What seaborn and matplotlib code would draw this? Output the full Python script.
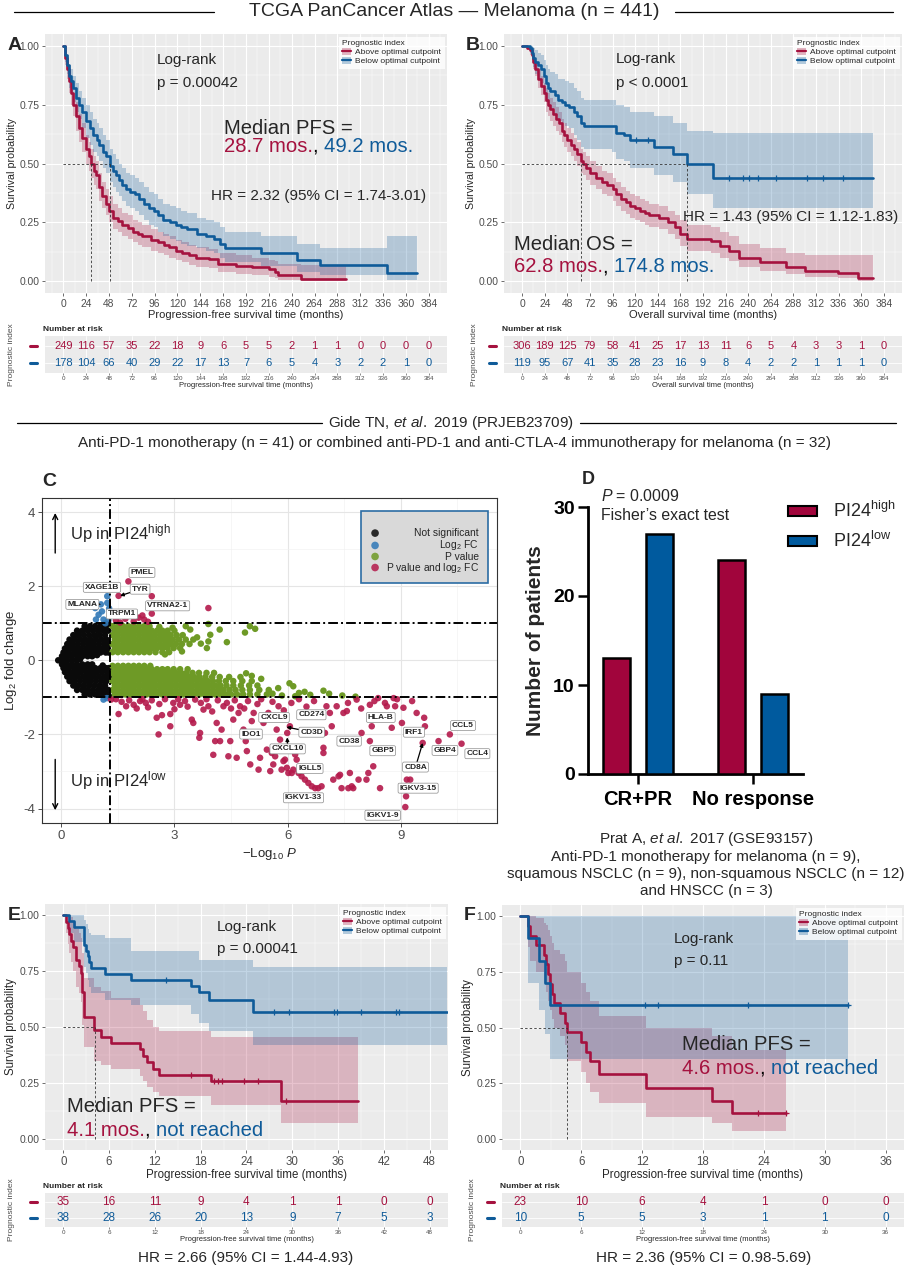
import numpy as np
import pandas as pd
import matplotlib
matplotlib.use("Agg")
import matplotlib.pyplot as plt
import seaborn as sns
from matplotlib.lines import Line2D
from matplotlib.patches import Patch, Rectangle
from matplotlib.ticker import MultipleLocator, FormatStrFormatter
from matplotlib.transforms import blended_transform_factory

sns.set_theme(style="white")
plt.rcParams["font.family"] = ["Liberation Sans", "DejaVu Sans"]
plt.rcParams["mathtext.fontset"] = "custom"
plt.rcParams["mathtext.rm"] = "Liberation Sans"
plt.rcParams["mathtext.it"] = "Liberation Sans:italic"
plt.rcParams["mathtext.bf"] = "Liberation Sans:bold"
plt.rcParams["axes.unicode_minus"] = False

RED = "#A5123F"
BLUE = "#0F5B99"
BAR_RED = "#A1053C"
BAR_BLUE = "#005A9E"
BG = "#EBEBEB"

# ---------------- KM data ----------------
# A: TCGA progression-free survival
A_red_t = [0, 2, 4, 6, 8, 10, 13, 17, 20, 24, 27, 29, 32, 34, 38, 41, 45, 48, 52, 57,
           62, 68, 73, 78, 83, 92, 100, 106, 111, 118, 125, 132, 139, 153, 163, 181, 198, 216, 222, 226,
           250, 297]
A_red_s = [1.0, 0.95, 0.90, 0.85, 0.80, 0.75, 0.70, 0.65, 0.61, 0.56, 0.53, 0.50, 0.47, 0.45, 0.40, 0.36, 0.33, 0.30, 0.27, 0.255,
           0.24, 0.225, 0.21, 0.20, 0.19, 0.175, 0.165, 0.155, 0.145, 0.13, 0.12, 0.11, 0.10, 0.095, 0.075, 0.065, 0.06, 0.05, 0.04, 0.025,
           0.01, 0.01]
A_red_lo = [1.0, 0.92, 0.86, 0.80, 0.75, 0.70, 0.64, 0.59, 0.55, 0.50, 0.47, 0.44, 0.41, 0.39, 0.34, 0.31, 0.28, 0.25, 0.22, 0.21,
            0.19, 0.18, 0.165, 0.155, 0.145, 0.13, 0.12, 0.11, 0.10, 0.09, 0.08, 0.07, 0.06, 0.055, 0.04, 0.03, 0.028, 0.02, 0.015, 0.005,
            0.002, 0.002]
A_red_hi = [1.0, 0.98, 0.94, 0.90, 0.85, 0.80, 0.76, 0.71, 0.67, 0.62, 0.59, 0.56, 0.53, 0.51, 0.46, 0.42, 0.39, 0.36, 0.33, 0.31,
            0.29, 0.28, 0.26, 0.25, 0.24, 0.22, 0.21, 0.20, 0.19, 0.175, 0.165, 0.155, 0.145, 0.135, 0.12, 0.11, 0.10, 0.09, 0.085, 0.075,
            0.07, 0.07]
A_blue_t = [0, 2, 4, 6, 8, 10, 13, 17, 20, 24, 28, 31, 35, 38, 42, 45, 49, 52, 55, 59,
            62, 66, 70, 75, 80, 85, 90, 95, 100, 105, 112, 118, 124, 130, 140, 150, 158, 165, 170, 200,
            208, 225, 246, 270, 310, 340, 372]
A_blue_s = [1.0, 0.96, 0.92, 0.87, 0.85, 0.82, 0.78, 0.75, 0.72, 0.68, 0.65, 0.62, 0.60, 0.58, 0.55, 0.53, 0.49, 0.47, 0.45, 0.43,
            0.41, 0.39, 0.38, 0.37, 0.35, 0.33, 0.31, 0.30, 0.28, 0.26, 0.25, 0.24, 0.23, 0.22, 0.20, 0.19, 0.18, 0.16, 0.14, 0.14,
            0.12, 0.12, 0.09, 0.07, 0.07, 0.035, 0.035]
A_blue_lo = [1.0, 0.93, 0.88, 0.82, 0.80, 0.76, 0.72, 0.69, 0.65, 0.61, 0.58, 0.55, 0.53, 0.51, 0.48, 0.46, 0.42, 0.40, 0.38, 0.36,
             0.34, 0.32, 0.31, 0.30, 0.28, 0.26, 0.24, 0.23, 0.21, 0.19, 0.18, 0.17, 0.16, 0.15, 0.14, 0.13, 0.12, 0.10, 0.08, 0.08,
             0.065, 0.065, 0.04, 0.025, 0.025, 0.005, 0.005]
A_blue_hi = [1.0, 0.99, 0.96, 0.92, 0.90, 0.87, 0.84, 0.81, 0.78, 0.75, 0.72, 0.69, 0.67, 0.65, 0.62, 0.60, 0.56, 0.54, 0.52, 0.50,
             0.48, 0.46, 0.45, 0.44, 0.42, 0.40, 0.38, 0.37, 0.35, 0.33, 0.32, 0.31, 0.30, 0.29, 0.27, 0.26, 0.25, 0.23, 0.21, 0.21,
             0.19, 0.19, 0.16, 0.14, 0.14, 0.19, 0.19]
A_medians = [28.7, 49.2]

# B: TCGA overall survival
B_red_t = [0, 5, 8, 10, 12, 14, 17, 20, 23, 25, 28, 30, 33, 36, 39, 42, 45, 48, 52, 55,
           58, 62, 65, 68, 72, 78, 85, 90, 96, 100, 105, 110, 115, 120, 125, 130, 135, 145, 155, 162,
           168, 175, 200, 210, 220, 230, 252, 280, 300, 335, 356, 372]
B_red_s = [1.0, 0.99, 0.98, 0.96, 0.93, 0.90, 0.86, 0.83, 0.80, 0.77, 0.75, 0.73, 0.71, 0.69, 0.67, 0.64, 0.62, 0.60, 0.58, 0.56,
           0.54, 0.51, 0.50, 0.48, 0.46, 0.44, 0.42, 0.41, 0.39, 0.37, 0.35, 0.335, 0.32, 0.31, 0.30, 0.29, 0.28, 0.27, 0.25, 0.23,
           0.20, 0.18, 0.17, 0.15, 0.13, 0.10, 0.08, 0.06, 0.045, 0.035, 0.015, 0.015]
B_red_lo = [1.0, 0.98, 0.96, 0.94, 0.90, 0.87, 0.82, 0.79, 0.76, 0.72, 0.70, 0.68, 0.66, 0.64, 0.62, 0.59, 0.57, 0.55, 0.53, 0.51,
            0.49, 0.46, 0.45, 0.43, 0.41, 0.39, 0.37, 0.36, 0.34, 0.32, 0.30, 0.285, 0.27, 0.26, 0.25, 0.24, 0.23, 0.22, 0.20, 0.18,
            0.15, 0.13, 0.12, 0.10, 0.085, 0.06, 0.045, 0.03, 0.02, 0.012, 0.002, 0.002]
B_red_hi = [1.0, 1.0, 0.99, 0.98, 0.96, 0.93, 0.90, 0.87, 0.84, 0.82, 0.80, 0.78, 0.76, 0.74, 0.72, 0.69, 0.67, 0.65, 0.63, 0.61,
            0.59, 0.56, 0.55, 0.53, 0.51, 0.49, 0.47, 0.46, 0.44, 0.42, 0.40, 0.385, 0.37, 0.36, 0.35, 0.34, 0.33, 0.32, 0.30, 0.28,
            0.26, 0.24, 0.23, 0.21, 0.19, 0.16, 0.14, 0.12, 0.11, 0.11, 0.11, 0.11]
B_blue_t = [0, 5, 8, 10, 12, 14, 17, 20, 23, 25, 28, 30, 35, 38, 42, 46, 50, 55, 58, 62,
            66, 95, 100, 108, 115, 130, 140, 160, 175, 203, 372]
B_blue_s = [1.0, 1.0, 0.99, 0.97, 0.95, 0.93, 0.92, 0.90, 0.87, 0.84, 0.82, 0.81, 0.79, 0.77, 0.76, 0.75, 0.74, 0.72, 0.70, 0.67,
            0.66, 0.66, 0.63, 0.62, 0.60, 0.60, 0.57, 0.54, 0.50, 0.44, 0.44]
B_blue_lo = [1.0, 1.0, 0.97, 0.94, 0.91, 0.88, 0.86, 0.84, 0.80, 0.76, 0.74, 0.73, 0.70, 0.68, 0.67, 0.66, 0.65, 0.62, 0.60, 0.57,
             0.56, 0.55, 0.52, 0.51, 0.48, 0.48, 0.45, 0.42, 0.37, 0.31, 0.31]
B_blue_hi = [1.0, 1.0, 1.0, 1.0, 0.99, 0.98, 0.97, 0.96, 0.94, 0.92, 0.90, 0.89, 0.88, 0.86, 0.86, 0.85, 0.84, 0.82, 0.81, 0.78,
             0.77, 0.77, 0.75, 0.74, 0.72, 0.72, 0.70, 0.67, 0.64, 0.63, 0.63]
B_blue_cens = [121, 134, 220, 234, 241, 250, 270, 302, 319, 341]
B_medians = [62.8, 174.8]

# E: Gide PFS
E_red_t = [0, 0.35, 0.57, 0.79, 1.0, 1.3, 1.66, 2.1, 2.3, 2.5, 2.75, 4.06, 4.9, 6.2, 10.0, 10.4, 11.0, 11.7, 12.6, 19.3, 28.5, 38.6]
E_red_s = [1.0, 0.971, 0.943, 0.914, 0.886, 0.857, 0.80, 0.771, 0.743, 0.657, 0.543, 0.486, 0.457, 0.429, 0.40, 0.371, 0.343,
           0.314, 0.286, 0.257, 0.171, 0.171]
E_red_lo = [1.0, 0.92, 0.87, 0.83, 0.79, 0.75, 0.68, 0.65, 0.61, 0.51, 0.41, 0.35, 0.33, 0.31, 0.28, 0.26, 0.23, 0.21, 0.19,
            0.15, 0.07, 0.07]
E_red_hi = [1.0, 1.0, 1.0, 1.0, 0.99, 0.97, 0.94, 0.92, 0.90, 0.83, 0.72, 0.68, 0.66, 0.63, 0.60, 0.57, 0.53, 0.50, 0.48,
            0.455, 0.455, 0.455]
E_blue_t = [0, 0.8, 1.4, 2.75, 3.0, 3.2, 3.4, 3.6, 5.4, 8.9, 16.7, 17.8, 19.1, 24.8, 50.3]
E_blue_s = [1.0, 0.974, 0.947, 0.868, 0.842, 0.816, 0.789, 0.763, 0.737, 0.711, 0.684, 0.656, 0.621, 0.567, 0.567]
E_blue_lo = [1.0, 0.92, 0.88, 0.77, 0.74, 0.71, 0.68, 0.65, 0.62, 0.60, 0.56, 0.52, 0.48, 0.42, 0.42]
E_blue_hi = [1.0, 1.0, 1.0, 0.98, 0.96, 0.94, 0.92, 0.91, 0.90, 0.84, 0.84, 0.80, 0.80, 0.77, 0.77]
E_red_cens = [16.7, 19.8, 20.3, 20.8, 23.7, 25.5, 29.2]
E_blue_cens = [13.4, 27.6, 29.6, 35.5, 35.9, 39.0, 43.6, 44.0]
E_medians = [4.1]

# F: Prat PFS
F_red_t = [0, 0.8, 1.0, 1.5, 2.3, 2.5, 2.7, 2.9, 3.1, 3.3, 3.9, 4.4, 4.6, 6.0, 6.5, 6.9, 7.8, 12.4, 18.9, 20.9, 26.2]
F_red_s = [1.0, 0.957, 0.913, 0.870, 0.826, 0.783, 0.739, 0.696, 0.652, 0.609, 0.565, 0.522, 0.478, 0.435, 0.391, 0.348,
           0.29, 0.23, 0.17, 0.115, 0.115]
F_red_lo = [1.0, 0.86, 0.80, 0.75, 0.70, 0.66, 0.62, 0.58, 0.54, 0.50, 0.46, 0.42, 0.35, 0.30, 0.25, 0.21, 0.16, 0.10, 0.07,
            0.035, 0.035]
F_red_hi = [1.0, 1.0, 1.0, 0.99, 0.97, 0.96, 0.94, 0.91, 0.88, 0.85, 0.83, 0.80, 0.75, 0.70, 0.66, 0.62, 0.55, 0.50, 0.46,
            0.40, 0.40]
F_blue_t = [0, 0.75, 1.8, 2.45, 2.9, 32.3]
F_blue_s = [1.0, 0.9, 0.8, 0.7, 0.6, 0.6]
F_blue_lo = [1.0, 0.70, 0.58, 0.47, 0.36, 0.36]
F_blue_hi = [1.0, 1.0, 1.0, 1.0, 1.0, 1.0]
F_red_cens = [23.4, 26.2]
F_blue_cens = [12.3, 13.6, 22.4, 32.3]
F_medians = [4.6]

# numbers at risk
ab_times = [0, 24, 48, 72, 96, 120, 144, 168, 192, 216, 240, 264, 288, 312, 336, 360, 384]
A_risk_red = [249, 116, 57, 35, 22, 18, 9, 6, 5, 5, 2, 1, 1, 0, 0, 0, 0]
A_risk_blue = [178, 104, 66, 40, 29, 22, 17, 13, 7, 6, 5, 4, 3, 2, 2, 1, 0]
B_risk_red = [306, 189, 125, 79, 58, 41, 25, 17, 13, 11, 6, 5, 4, 3, 3, 1, 0]
B_risk_blue = [119, 95, 67, 41, 35, 28, 23, 16, 9, 8, 4, 2, 2, 1, 1, 1, 0]
e_times = [0, 6, 12, 18, 24, 30, 36, 42, 48]
E_risk_red = [35, 16, 11, 9, 4, 1, 1, 0, 0]
E_risk_blue = [38, 28, 26, 20, 13, 9, 7, 5, 3]
f_times = [0, 6, 12, 18, 24, 30, 36]
F_risk_red = [23, 10, 6, 4, 1, 0, 0]
F_risk_blue = [10, 5, 5, 3, 1, 1, 0]

# ---------------- volcano data (C) ----------------
black_rows = [
    (0.92, [0.62, 0.76, 0.90, 1.04, 1.18]),
    (0.80, [0.42, 0.56, 0.70, 0.84, 0.98, 1.12, 1.25]),
    (0.68, [0.32, 0.46, 0.60, 0.74, 0.88, 1.02, 1.16]),
    (0.56, [0.22, 0.36, 0.50, 0.64, 0.78, 0.92, 1.06, 1.20]),
    (0.44, [0.16, 0.30, 0.44, 0.58, 0.72, 0.86, 1.00, 1.14, 1.26]),
    (0.32, [0.10, 0.24, 0.38, 0.52, 0.66, 0.80, 0.94, 1.08, 1.22]),
    (0.21, [0.06, 0.20, 0.34, 0.48, 0.62, 0.76, 0.90, 1.04, 1.18, 1.26]),
    (0.11, [0.02, 0.14, 0.28, 0.42, 0.56, 0.70, 0.82]),
    (0.0, [-0.08, 0.04, 0.16, 0.28, 0.40]),
    (-0.11, [0.02, 0.14, 0.28, 0.42, 0.56, 0.70, 0.82]),
    (-0.21, [0.06, 0.20, 0.34, 0.48, 0.62, 0.76, 0.90, 1.04, 1.18, 1.26]),
    (-0.32, [0.10, 0.24, 0.38, 0.52, 0.66, 0.80, 0.94, 1.08, 1.22]),
    (-0.44, [0.16, 0.30, 0.44, 0.58, 0.72, 0.86, 1.00, 1.14, 1.26]),
    (-0.56, [0.22, 0.36, 0.50, 0.64, 0.78, 0.92, 1.06, 1.20]),
    (-0.68, [0.32, 0.46, 0.60, 0.74, 0.88, 1.02, 1.16]),
    (-0.80, [0.42, 0.56, 0.70, 0.84, 0.98, 1.12, 1.25]),
    (-0.92, [0.62, 0.76, 0.90, 1.04, 1.18]),
]
black_extra = [(0.37, -0.68), (0.45, 0.74), (1.25, 0.98), (1.27, -0.97), (0.66, -0.88), (0.95, 0.14),
               (1.10, -0.14), (0.50, 0.03)]

blue_pts = [(1.22, 1.73), (1.22, 1.55), (1.05, 1.51), (0.90, 1.41), (1.08, 1.32), (0.99, 1.23), (1.12, 1.10),
            (1.17, 1.00), (1.25, 1.08), (0.92, 1.10), (1.27, 1.40), (1.21, -1.02), (1.12, -1.06)]

green_up_rows = [
    (0.92, [1.36, 1.50, 1.64, 1.78, 1.92, 2.06, 2.20, 2.34]),
    (0.80, [1.42, 1.56, 1.70, 1.84, 1.98, 2.12, 2.26, 2.40, 2.54, 2.68, 2.82, 3.00]),
    (0.68, [1.36, 1.50, 1.64, 1.78, 1.92, 2.06, 2.20, 2.34, 2.48, 2.62, 2.76, 2.90, 3.06, 3.22]),
    (0.56, [1.42, 1.56, 1.70, 1.84, 1.98, 2.12, 2.26, 2.40, 2.54, 2.68, 2.82, 2.96, 3.12, 3.30, 3.50]),
    (0.44, [1.36, 1.50, 1.64, 1.78, 1.92, 2.06, 2.20, 2.34, 2.48, 2.62, 2.76, 2.90, 3.04, 3.20, 3.40]),
    (0.33, [1.42, 1.56, 1.70, 1.84, 1.98, 2.12, 2.26, 2.40, 2.54, 2.68, 2.82, 2.98, 3.15]),
    (0.22, [1.36, 1.50, 1.64, 1.78, 1.92, 2.06, 2.20, 2.34, 2.50, 2.68, 2.86]),
]
green_up_extra = [(3.90, 0.98), (4.20, 0.83), (4.87, 0.75), (5.14, 0.85), (4.39, 0.49), (3.95, 0.69), (3.90, 0.51),
                  (3.86, 0.33), (3.42, 0.83), (3.30, 0.92), (3.70, 0.45), (3.20, 0.24), (2.75, 0.16), (3.60, 0.62),
                  (2.60, 0.90), (2.95, 0.88), (5.00, 0.92)]
green_dn_rows = [
    (-0.15, [1.36, 1.50, 1.64, 1.78, 1.92, 2.06, 2.20, 2.36]),
    (-0.24, [1.42, 1.56, 1.70, 1.84, 1.98, 2.12, 2.26, 2.40, 2.54, 2.68, 2.82, 2.98, 3.15, 3.35]),
    (-0.34, [1.36, 1.50, 1.64, 1.78, 1.92, 2.06, 2.20, 2.34, 2.48, 2.62, 2.76, 2.90, 3.04, 3.18, 3.32, 3.48, 3.65,
             3.85, 4.05]),
    (-0.45, [1.42, 1.56, 1.70, 1.84, 1.98, 2.12, 2.26, 2.40, 2.54, 2.68, 2.82, 2.96, 3.10, 3.24, 3.38, 3.52, 3.66,
             3.82, 4.00, 4.20, 4.45, 4.75]),
    (-0.56, [1.36, 1.50, 1.64, 1.78, 1.92, 2.06, 2.20, 2.34, 2.48, 2.62, 2.76, 2.90, 3.04, 3.18, 3.32, 3.46, 3.60,
             3.74, 3.88, 4.02, 4.18, 4.36, 4.56, 4.80, 5.05]),
    (-0.68, [1.42, 1.56, 1.70, 1.84, 1.98, 2.12, 2.26, 2.40, 2.54, 2.68, 2.82, 2.96, 3.10, 3.24, 3.38, 3.52, 3.66,
             3.80, 3.94, 4.08, 4.22, 4.38, 4.56, 4.76, 4.98, 5.20]),
    (-0.80, [1.36, 1.50, 1.64, 1.78, 1.92, 2.06, 2.20, 2.34, 2.48, 2.62, 2.76, 2.90, 3.04, 3.18, 3.32, 3.46, 3.60,
             3.74, 3.88, 4.02, 4.16, 4.30, 4.46, 4.62, 4.80, 5.00, 5.25, 5.50]),
    (-0.92, [1.42, 1.56, 1.70, 1.84, 1.98, 2.12, 2.26, 2.40, 2.54, 2.68, 2.82, 2.96, 3.10, 3.24, 3.38, 3.52, 3.66,
             3.80, 3.94, 4.08, 4.22, 4.36, 4.50, 4.66, 4.82, 5.00, 5.20, 5.45]),
]
green_dn_extra = [(5.75, -0.75), (6.05, -0.62), (6.15, -0.70), (6.30, -0.88), (6.45, -0.85), (6.60, -0.93),
                  (6.95, -0.82), (7.10, -0.90), (7.45, -0.95), (7.80, -0.98), (6.20, -0.97), (5.60, -0.90),
                  (5.85, -0.95), (5.30, -0.50), (4.90, -0.35), (5.05, -0.42)]

red_up_pts = [(1.78, 2.13), (1.52, 1.74), (2.40, 1.73), (2.40, 1.26), (2.15, 1.21), (2.20, 1.10), (3.90, 1.41),
              (1.92, 1.05), (1.56, 1.02), (1.45, 1.08), (2.05, 1.15), (1.70, 1.12), (2.30, 1.04)]
red_dn_pts = [
    (1.32, -1.06), (1.52, -1.45), (1.72, -1.24), (1.92, -1.20), (2.09, -1.10), (2.24, -1.15), (2.30, -1.27),
    (2.53, -1.55), (2.58, -2.00), (2.67, -1.48), (2.89, -1.45), (2.89, -1.78), (2.97, -1.15), (3.15, -1.20),
    (3.28, -1.10), (3.46, -1.60), (3.50, -1.69), (3.66, -2.09), (3.68, -1.96), (3.77, -1.33), (3.90, -1.24),
    (4.03, -2.55), (4.08, -2.18), (4.12, -1.69), (4.21, -2.18), (4.25, -1.87), (4.30, -1.24), (4.39, -1.15),
    (4.43, -2.59), (4.48, -2.18), (4.56, -1.60), (4.65, -2.63), (4.70, -1.42), (4.74, -1.24), (4.83, -1.87),
    (4.89, -2.18), (4.92, -2.45), (5.01, -2.81), (5.05, -1.64), (5.10, -1.42), (5.23, -2.95), (5.27, -2.63),
    (5.36, -1.69), (5.45, -2.41), (5.49, -1.42), (5.54, -2.99), (5.58, -2.50), (5.62, -2.81), (5.67, -2.59),
    (5.71, -1.87), (5.76, -1.24), (5.80, -2.14), (5.84, -2.95), (5.89, -2.72), (5.93, -2.68), (5.98, -2.90),
    (5.99, -1.96), (6.02, -3.04), (6.06, -1.78), (6.11, -3.04), (6.15, -2.95), (6.20, -2.54), (6.24, -2.68),
    (6.29, -3.04), (6.33, -2.95), (6.37, -3.13), (6.46, -3.22), (6.55, -3.31), (6.64, -3.40), (6.73, -3.45),
    (6.81, -3.45), (6.90, -3.40), (6.95, -2.36), (6.95, -2.50), (6.99, -1.96), (7.03, -1.24), (7.12, -1.42),
    (7.17, -1.78), (7.21, -3.22), (7.30, -1.24), (7.35, -3.13), (7.39, -3.09), (7.43, -3.45), (7.48, -1.42),
    (7.57, -1.37), (7.61, -3.45), (7.65, -3.04), (7.70, -3.40), (7.74, -3.45), (7.83, -1.06), (7.88, -3.22),
    (7.96, -1.96), (8.09, -3.22), (8.14, -3.04), (8.18, -1.20), (8.18, -2.18), (8.23, -1.78), (8.27, -2.86),
    (8.45, -3.45), (8.58, -1.15), (8.63, -1.24), (8.76, -1.82), (8.85, -1.24), (9.03, -1.69), (9.07, -1.28),
    (9.16, -3.22), (9.25, -3.22), (9.42, -1.42), (9.58, -2.23), (9.62, -1.55), (9.64, -1.78), (10.00, -2.18),
    (10.30, -2.00), (10.61, -2.25), (9.14, -3.67), (9.12, -3.96), (8.81, -1.02), (9.30, -1.10), (8.40, -1.02),
    (1.45, -1.05), (1.60, -1.12), (1.80, -1.08), (2.00, -1.30), (2.15, -1.05), (2.40, -1.08), (2.60, -1.18),
    (2.75, -1.05), (3.00, -1.32), (3.10, -1.05), (3.35, -1.25), (3.55, -1.06), (3.70, -1.15), (3.85, -1.05),
    (4.00, -1.38), (4.15, -1.08), (4.50, -1.30), (4.60, -1.08), (4.85, -1.30), (4.95, -1.10), (5.20, -1.18),
    (5.30, -1.05), (5.60, -1.12), (5.90, -1.35), (6.10, -1.15), (6.30, -1.05), (6.50, -1.25), (6.70, -1.10),
    (6.85, -1.45), (7.60, -1.15), (7.95, -1.30), (8.30, -1.10), (8.90, -1.05),
]

gene_names = ["PMEL", "XAGE1B", "TYR", "MLANA", "VTRNA2-1", "TRPM1", "CXCL9", "CD274", "IDO1", "CD3D", "CXCL10",
              "IGLL5", "IGKV1-33", "HLA-B", "CD38", "GBP5", "IRF1", "CD8A", "CCL5", "GBP4", "CCL4", "IGKV3-15",
              "IGKV1-9"]
gene_lx = [2.14, 1.08, 2.09, 0.56, 2.82, 1.61, 5.64, 6.63, 5.03, 6.64, 6.00, 6.59, 6.42, 8.47, 7.63, 8.52, 9.35,
           9.39, 10.65, 10.17, 11.03, 9.46, 8.52]
gene_ly = [2.37, 1.97, 1.92, 1.51, 1.47, 1.25, -1.54, -1.47, -1.99, -1.94, -2.39, -2.92, -3.71, -1.54, -2.18, -2.44,
           -1.94, -2.88, -1.76, -2.43, -2.52, -3.45, -4.18]
gene_ax = [None, None, 1.56, 1.05, None, None, None, None, None, 5.97, 5.99, None, None, None, None, None, None,
           9.58, None, None, None, None, None]
gene_ay = [None, None, 1.74, 1.51, None, None, None, None, None, -1.80, -2.08, None, None, None, None, None, None,
           -2.23, None, None, None, None, None]

# ---------------- bar data (D) ----------------
d_categories = ["CR+PR", "No response"]
d_high = [13, 24]
d_low = [27, 9]

# ---------------- helpers ----------------
W, H = 909, 1280
fig = plt.figure(figsize=(W / 100, H / 100), dpi=100)
fig.patch.set_facecolor("white")


def add_ax(l, t, r, b):
    return fig.add_axes([l / W, 1 - b / H, (r - l) / W, (b - t) / H])


def ftext(x, y, s, **kw):
    kw.setdefault("va", "center")
    return fig.text(x / W, 1 - y / H, s, **kw)


def hline(x0, x1, y, lw=0.9):
    fig.add_artist(Line2D([x0 / W, x1 / W], [1 - y / H, 1 - y / H], color="black", lw=lw,
                          transform=fig.transFigure))


def multicolor(ax, x, y, parts, size):
    t = ftext(x, y, parts[0][0], color=parts[0][1], fontsize=size, ha="left")
    for s, c in parts[1:]:
        t = ax.annotate(s, xy=(1, 0), xycoords=t, color=c, fontsize=size, va="bottom", ha="left",
                        annotation_clip=False)


def km_panel(box, curves, censors, medians, xmax, xstep, xlabel, xt_size, xl_size, yl_size):
    ax = add_ax(*box)
    ax.set_facecolor(BG)
    for t, s, lo, hi, col in curves:
        ax.fill_between(t, lo, hi, step="post", color=col, alpha=0.25, lw=0)
    for t, s, lo, hi, col in curves:
        sns.lineplot(x=t, y=s, ax=ax, color=col, linewidth=1.9, drawstyle="steps-post",
                     estimator=None, sort=False, legend=False)
    for t, s, ct, col in censors:
        cy = [s[np.searchsorted(t, c, side="right") - 1] for c in ct]
        ax.plot(ct, cy, ls="none", marker="+", ms=4, mew=0.9, color=col)
    ax.plot([0, max(medians)], [0.5, 0.5], ls=(0, (3, 2.5)), color="#333333", lw=0.6)
    for m in medians:
        ax.plot([m, m], [0, 0.5], ls=(0, (3, 2.5)), color="#333333", lw=0.6)
    ax.set_xlim(-0.05 * xmax, 1.05 * xmax)
    ax.set_ylim(-0.05, 1.05)
    ax.set_xticks(np.arange(0, xmax + 1, xstep))
    ax.set_yticks([0, 0.25, 0.5, 0.75, 1.0])
    ax.xaxis.set_minor_locator(MultipleLocator(xstep / 2))
    ax.yaxis.set_minor_locator(MultipleLocator(0.125))
    ax.yaxis.set_major_formatter(FormatStrFormatter("%.2f"))
    ax.grid(True, which="major", color="white", lw=0.8)
    ax.grid(True, which="minor", color="white", lw=0.35)
    ax.set_axisbelow(True)
    for sp in ax.spines.values():
        sp.set_visible(False)
    ax.tick_params(which="major", length=2.5, width=0.5, color="#333333", labelcolor="#4D4D4D", pad=1.5,
                   bottom=True, left=True)
    ax.tick_params(axis="y", labelsize=7.4)
    ax.tick_params(axis="x", labelsize=xt_size)
    ax.tick_params(which="minor", length=0)
    ax.set_xlabel(xlabel, fontsize=xl_size, labelpad=1)
    ax.set_ylabel("Survival probability", fontsize=yl_size, labelpad=2)
    handles = [(Patch(facecolor=RED, alpha=0.3, lw=0), Line2D([], [], color=RED, lw=1.6)),
               (Patch(facecolor=BLUE, alpha=0.3, lw=0), Line2D([], [], color=BLUE, lw=1.6))]
    leg = ax.legend(handles, ["Above optimal cutpoint", "Below optimal cutpoint"], title="Prognostic index",
                    loc="upper right", fontsize=6, title_fontsize=6, frameon=True, fancybox=False,
                    handlelength=1.1, handleheight=0.9, borderaxespad=0.3, labelspacing=0.1,
                    handletextpad=0.5, borderpad=0.4, alignment="left")
    leg.get_frame().set_linewidth(0)
    leg.get_frame().set_facecolor("white")
    return ax


def risk_panel(box, times, n_red, n_blue, xmax, xlabel, num_size, pi_x):
    ax = add_ax(*box)
    ax.set_facecolor(BG)
    for t, n in zip(times, n_red):
        ax.text(t, 2, str(n), color=RED, ha="center", va="center", fontsize=num_size)
    for t, n in zip(times, n_blue):
        ax.text(t, 1, str(n), color=BLUE, ha="center", va="center", fontsize=num_size)
    ax.set_xlim(-0.05 * xmax, 1.05 * xmax)
    ax.set_ylim(0.4, 2.6)
    ax.set_xticks(times)
    ax.set_yticks([1, 2])
    ax.set_yticklabels([])
    ax.grid(True, color="white", lw=0.6)
    ax.set_axisbelow(True)
    for sp in ax.spines.values():
        sp.set_visible(False)
    ax.tick_params(axis="x", length=1.5, width=0.4, color="#333333", labelsize=4.5, labelcolor="#4D4D4D",
                   pad=1, bottom=True)
    ax.tick_params(axis="y", length=0)
    ax.set_xlabel(xlabel, fontsize=5.5, labelpad=0.5)
    tr = blended_transform_factory(ax.transAxes, ax.transData)
    for yv, col in ((2, RED), (1, BLUE)):
        ax.plot([-0.038, -0.02], [yv, yv], color=col, lw=2.2, clip_on=False, transform=tr)
    ax.text(-0.005, 1.08, "Number at risk", transform=ax.transAxes, fontsize=6, fontweight="bold",
            va="bottom", ha="left")
    ftext(pi_x, (box[1] + box[3]) / 2, "Prognostic index", rotation=90, fontsize=6, color="#4D4D4D",
          ha="center")
    return ax


# ---------------- headers ----------------
ftext(454, 12, "TCGA PanCancer Atlas \u2014 Melanoma (n = 441)", fontsize=14, ha="center")
hline(14, 214, 12)
hline(675, 893, 12)
ftext(451, 423, r"Gide TN, $\it{et\ al.}$ 2019 (PRJEB23709)", fontsize=11, ha="center")
hline(17, 322, 423)
hline(580, 896, 423)
ftext(455, 443, "Anti-PD-1 monotherapy (n = 41) or combined anti-PD-1 and anti-CTLA-4 immunotherapy for melanoma (n = 32)",
      fontsize=11, ha="center")
ftext(706, 839, r"Prat A, $\it{et\ al.}$ 2017 (GSE93157)", fontsize=11, ha="center")
ftext(706, 857, "Anti-PD-1 monotherapy for melanoma (n = 9),", fontsize=11, ha="center")
ftext(706, 874, "squamous NSCLC (n = 9), non-squamous NSCLC (n = 12)", fontsize=11, ha="center")
ftext(706, 891, "and HNSCC (n = 3)", fontsize=11, ha="center")

# ---------------- A ----------------
axA = km_panel((45, 34, 447, 293),
               [(A_red_t, A_red_s, A_red_lo, A_red_hi, RED), (A_blue_t, A_blue_s, A_blue_lo, A_blue_hi, BLUE)],
               [], A_medians, 384, 24, "Progression-free survival time (months)", 7.4, 8, 7.7)
ftext(8, 46, "A", fontsize=14, fontweight="bold")
ftext(157, 60, "Log-rank", fontsize=11)
ftext(157, 83, "p = 0.00042", fontsize=11)
ftext(224, 128, "Median PFS =", fontsize=14.6)
multicolor(axA, 224, 146, [("28.7 mos.", RED), (", ", "black"), ("49.2 mos.", BLUE)], 14.6)
ftext(211, 196, "HR = 2.32 (95% CI = 1.74-3.01)", fontsize=11)
risk_panel((45, 336, 447, 373), ab_times, A_risk_red, A_risk_blue, 384,
           "Progression-free survival time (months)", 8, 12)

# ---------------- B ----------------
axB = km_panel((504, 34, 902, 293),
               [(B_red_t, B_red_s, B_red_lo, B_red_hi, RED), (B_blue_t, B_blue_s, B_blue_lo, B_blue_hi, BLUE)],
               [(B_blue_t, B_blue_s, B_blue_cens, BLUE)], B_medians, 384, 24,
               "Overall survival time (months)", 7.4, 8, 7.7)
ftext(466, 46, "B", fontsize=14, fontweight="bold")
ftext(616, 59, "Log-rank", fontsize=11)
ftext(616, 83, "p < 0.0001", fontsize=11)
ftext(683, 217, "HR = 1.43 (95% CI = 1.12-1.83)", fontsize=11)
ftext(514, 245, "Median OS =", fontsize=14.6)
multicolor(axB, 514, 267, [("62.8 mos.", RED), (", ", "black"), ("174.8 mos.", BLUE)], 14.6)
risk_panel((504, 336, 902, 373), ab_times, B_risk_red, B_risk_blue, 384,
           "Overall survival time (months)", 8, 475)

# ---------------- C: volcano ----------------
axC = add_ax(42, 498, 497, 823)
axC.set_facecolor("white")
groups = [
    ([x for y, xs in black_rows for x in xs] + [p[0] for p in black_extra],
     [y for y, xs in black_rows for x in xs] + [p[1] for p in black_extra], "#0A0A0A", 1.0),
    ([p[0] for p in blue_pts], [p[1] for p in blue_pts], "#2F78B7", 0.9),
    ([x for y, xs in green_up_rows + green_dn_rows for x in xs] + [p[0] for p in green_up_extra + green_dn_extra],
     [y for y, xs in green_up_rows + green_dn_rows for x in xs] + [p[1] for p in green_up_extra + green_dn_extra],
     "#6E9A26", 1.0),
    ([p[0] for p in red_up_pts + red_dn_pts], [p[1] for p in red_up_pts + red_dn_pts], "#B4194B", 0.9),
]
for gx, gy, col, al in groups:
    sns.scatterplot(x=gx, y=gy, color=col, s=22, alpha=al, edgecolor="none", linewidth=0, ax=axC, legend=False)
dash = (0, (5, 1.6, 1, 1.6))
axC.axvline(1.3, color="black", ls=dash, lw=1.4)
axC.axhline(1, color="black", ls=dash, lw=1.4)
axC.axhline(-1, color="black", ls=dash, lw=1.4)
axC.set_xlim(-0.51, 11.55)
axC.set_ylim(-4.39, 4.38)
axC.set_xticks([0, 3, 6, 9])
axC.set_yticks([-4, -2, 0, 2, 4])
axC.xaxis.set_minor_locator(MultipleLocator(1.5))
axC.yaxis.set_minor_locator(MultipleLocator(1))
axC.grid(True, which="major", color="#E5E5E5", lw=0.8)
axC.grid(True, which="minor", color="#F0F0F0", lw=0.4)
axC.set_axisbelow(True)
for sp in axC.spines.values():
    sp.set_color("#333333")
    sp.set_linewidth(0.8)
axC.tick_params(which="major", length=3, width=0.6, color="#333333", labelsize=9.5, labelcolor="#4D4D4D",
                pad=2, bottom=True, left=True)
axC.tick_params(which="minor", length=0)
axC.set_ylabel(r"Log$_2$ fold change", fontsize=9.5, labelpad=3)
axC.set_xlabel(r"$-$Log$_{10}$ $\it{P}$", fontsize=9.5, labelpad=3)
axC.annotate("", xy=(-0.16, 4.05), xytext=(-0.16, 2.82),
             arrowprops=dict(arrowstyle="->", lw=1.0, color="black", mutation_scale=9))
axC.annotate("", xy=(-0.16, -4.12), xytext=(-0.16, -2.6),
             arrowprops=dict(arrowstyle="->", lw=1.0, color="black", mutation_scale=9))
axC.text(0.22, 3.42, r"Up in PI24$^{\rm high}$", fontsize=12, va="center")
axC.text(0.22, -3.25, r"Up in PI24$^{\rm low}$", fontsize=12, va="center")
for name, lx, ly, px_, py_ in zip(gene_names, gene_lx, gene_ly, gene_ax, gene_ay):
    bb = dict(boxstyle="round,pad=0.18", fc="white", ec="#8C8C8C", lw=0.5)
    if px_ is None:
        axC.text(lx, ly, name, ha="center", va="center", fontsize=6, fontweight="bold", bbox=bb, zorder=6)
    else:
        axC.annotate(name, xy=(px_, py_), xytext=(lx, ly), ha="center", va="center", fontsize=6,
                     fontweight="bold", bbox=bb, zorder=6,
                     arrowprops=dict(arrowstyle="-|>", color="black", lw=0.9, mutation_scale=5,
                                     shrinkA=0, shrinkB=0))
# legend box
axC.add_patch(Rectangle((0.701, 0.738), 0.279, 0.222, transform=axC.transAxes, fc="#D9D9D9",
                        ec="#2B6CA3", lw=1.2, zorder=5))
leg_y = [0.892, 0.854, 0.820, 0.786]
leg_c = ["#0A0A0A", "#2F78B7", "#6E9A26", "#B4194B"]
leg_t = ["Not significant", r"Log$_2$ FC", "P value", r"P value and log$_2$ FC"]
for yy, cc, tt in zip(leg_y, leg_c, leg_t):
    axC.scatter([0.732], [yy], transform=axC.transAxes, s=30, color=cc, alpha=0.85, zorder=6, clip_on=False,
                edgecolor="none")
    axC.text(0.960, yy, tt, transform=axC.transAxes, ha="right", va="center", fontsize=7.4, zorder=6)
ftext(42, 481, "C", fontsize=14, fontweight="bold")

# ---------------- D: bars ----------------
axD = add_ax(588, 507, 803, 774)
df_d = pd.DataFrame({"Response": d_categories + d_categories,
                     "Group": ["high"] * len(d_high) + ["low"] * len(d_low),
                     "Patients": d_high + d_low})
sns.barplot(data=df_d, x="Response", y="Patients", hue="Group", hue_order=["high", "low"],
            palette=[BAR_RED, BAR_BLUE], width=0.75, gap=0.37, edgecolor="black", linewidth=1.8,
            saturation=1, ax=axD, legend=False, zorder=3)
axD.set_facecolor("white")
axD.set_xlim(-0.435, 1.435)
axD.set_ylim(0, 30)
axD.set_yticks([0, 10, 20, 30])
for s in ["top", "right"]:
    axD.spines[s].set_visible(False)
for s in ["left", "bottom"]:
    axD.spines[s].set_color("black")
    axD.spines[s].set_linewidth(2)
axD.tick_params(axis="both", direction="out", length=7.5, width=1.8, color="black", labelcolor="black",
                bottom=True, left=True)
axD.tick_params(axis="y", labelsize=14, pad=2)
axD.tick_params(axis="x", labelsize=14.5, pad=4)
for lab in axD.get_xticklabels() + axD.get_yticklabels():
    lab.set_fontweight("bold")
axD.set_xlabel("")
axD.set_ylabel("Number of patients", fontsize=15, fontweight="bold", labelpad=6)
axD.grid(False)
ftext(582, 480, "D", fontsize=13, fontweight="bold")
ftext(601, 496, r"$\it{P}$ = 0.0009", fontsize=11.4)
ftext(601, 516, "Fisher\u2019s exact test", fontsize=11.4)
for yy, cc, lab in ((511, BAR_RED, r"PI24$^{\rm high}$"), (541, BAR_BLUE, r"PI24$^{\rm low}$")):
    fig.add_artist(Rectangle((788 / W, 1 - (yy + 5) / H), 29 / W, 10 / H, transform=fig.transFigure,
                             fc=cc, ec="black", lw=1.5))
    ftext(833, yy, lab, fontsize=13)

# ---------------- E ----------------
axE = km_panel((45, 904, 448, 1150),
               [(E_red_t, E_red_s, E_red_lo, E_red_hi, RED), (E_blue_t, E_blue_s, E_blue_lo, E_blue_hi, BLUE)],
               [(E_red_t, E_red_s, E_red_cens, RED), (E_blue_t, E_blue_s, E_blue_cens, BLUE)],
               E_medians, 48, 6, "Progression-free survival time (months)", 8.3, 8.3, 8.3)
ftext(8, 915, "E", fontsize=14, fontweight="bold")
ftext(217, 927, "Log-rank", fontsize=11)
ftext(217, 949, "p = 0.00041", fontsize=11)
ftext(67, 1107, "Median PFS =", fontsize=14.6)
multicolor(axE, 67, 1130, [("4.1 mos.", RED), (", ", "black"), ("not reached", BLUE)], 14.6)
risk_panel((45, 1193, 448, 1227), e_times, E_risk_red, E_risk_blue, 48,
           "Progression-free survival time (months)", 8.5, 12)
ftext(246, 1258, "HR = 2.66 (95% CI = 1.44-4.93)", fontsize=11, ha="center")

# ---------------- F ----------------
axF = km_panel((502, 905, 904, 1150),
               [(F_red_t, F_red_s, F_red_lo, F_red_hi, RED), (F_blue_t, F_blue_s, F_blue_lo, F_blue_hi, BLUE)],
               [(F_red_t, F_red_s, F_red_cens, RED), (F_blue_t, F_blue_s, F_blue_cens, BLUE)],
               F_medians, 36, 6, "Progression-free survival time (months)", 8.3, 8.3, 8.3)
ftext(464, 916, "F", fontsize=14, fontweight="bold")
ftext(674, 939, "Log-rank", fontsize=11)
ftext(674, 961, "p = 0.11", fontsize=11)
ftext(682, 1045, "Median PFS =", fontsize=14.6)
multicolor(axF, 682, 1068, [("4.6 mos.", RED), (", ", "black"), ("not reached", BLUE)], 14.6)
risk_panel((502, 1193, 904, 1227), f_times, F_risk_red, F_risk_blue, 36,
           "Progression-free survival time (months)", 8.5, 472)
ftext(704, 1258, "HR = 2.36 (95% CI = 0.98-5.69)", fontsize=11, ha="center")

fig.savefig("out.png", dpi=100)
